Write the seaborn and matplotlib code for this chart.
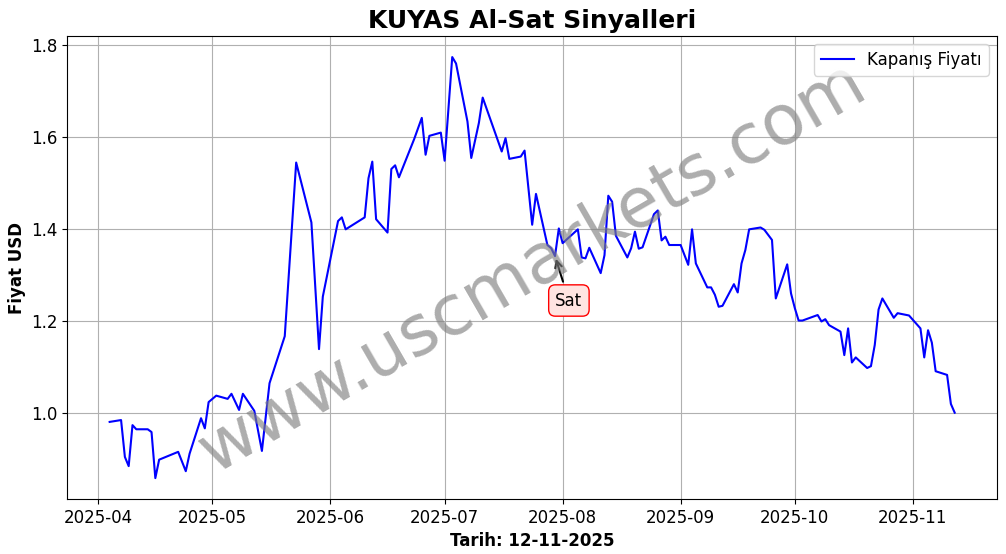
import seaborn as sns
import pandas as pd
import matplotlib.pyplot as plt
import matplotlib.dates as mdates

# closing prices (USD)
dates = [
    "2025-04-04", "2025-04-07", "2025-04-08", "2025-04-09", "2025-04-10", "2025-04-11",
    "2025-04-14", "2025-04-15", "2025-04-16", "2025-04-17", "2025-04-22", "2025-04-24",
    "2025-04-25", "2025-04-28", "2025-04-29", "2025-04-30", "2025-05-02", "2025-05-05",
    "2025-05-06", "2025-05-08", "2025-05-09", "2025-05-12", "2025-05-14", "2025-05-16",
    "2025-05-20", "2025-05-23", "2025-05-27", "2025-05-29", "2025-05-30", "2025-06-03",
    "2025-06-04", "2025-06-05", "2025-06-10", "2025-06-11", "2025-06-12", "2025-06-13",
    "2025-06-16", "2025-06-17", "2025-06-18", "2025-06-19", "2025-06-23", "2025-06-25",
    "2025-06-26", "2025-06-27", "2025-06-30", "2025-07-01", "2025-07-03", "2025-07-04",
    "2025-07-07", "2025-07-08", "2025-07-10", "2025-07-11", "2025-07-16", "2025-07-17",
    "2025-07-18", "2025-07-21", "2025-07-22", "2025-07-24", "2025-07-25", "2025-07-28",
    "2025-07-29", "2025-07-30", "2025-07-31", "2025-08-01", "2025-08-05", "2025-08-06",
    "2025-08-07", "2025-08-08", "2025-08-11", "2025-08-12", "2025-08-13", "2025-08-14",
    "2025-08-15", "2025-08-18", "2025-08-19", "2025-08-20", "2025-08-21", "2025-08-22",
    "2025-08-25", "2025-08-26", "2025-08-27", "2025-08-28", "2025-08-29", "2025-09-01",
    "2025-09-03", "2025-09-04", "2025-09-05", "2025-09-08", "2025-09-09", "2025-09-10",
    "2025-09-11", "2025-09-12", "2025-09-15", "2025-09-16", "2025-09-17", "2025-09-18",
    "2025-09-19", "2025-09-22", "2025-09-23", "2025-09-24", "2025-09-25", "2025-09-26",
    "2025-09-29", "2025-09-30", "2025-10-01", "2025-10-02", "2025-10-03", "2025-10-07",
    "2025-10-08", "2025-10-09", "2025-10-10", "2025-10-13", "2025-10-14", "2025-10-15",
    "2025-10-16", "2025-10-17", "2025-10-20", "2025-10-21", "2025-10-22", "2025-10-23",
    "2025-10-24", "2025-10-27", "2025-10-28", "2025-10-31", "2025-11-03", "2025-11-04",
    "2025-11-05", "2025-11-06", "2025-11-07", "2025-11-10", "2025-11-11", "2025-11-12",
]
prices = [
    0.981, 0.985, 0.905, 0.885, 0.974, 0.965,
    0.965, 0.959, 0.859, 0.899, 0.916, 0.874,
    0.912, 0.989, 0.967, 1.024, 1.038, 1.031,
    1.042, 1.007, 1.042, 1.005, 0.918, 1.065,
    1.167, 1.544, 1.414, 1.139, 1.253, 1.417,
    1.425, 1.399, 1.425, 1.510, 1.546, 1.421,
    1.392, 1.530, 1.538, 1.512, 1.595, 1.641,
    1.561, 1.602, 1.609, 1.548, 1.773, 1.759,
    1.633, 1.554, 1.630, 1.685, 1.568, 1.597,
    1.552, 1.557, 1.570, 1.409, 1.476, 1.365,
    1.358, 1.341, 1.401, 1.369, 1.399, 1.338,
    1.336, 1.359, 1.304, 1.343, 1.472, 1.459,
    1.385, 1.338, 1.358, 1.394, 1.357, 1.360,
    1.432, 1.440, 1.375, 1.383, 1.365, 1.365,
    1.322, 1.399, 1.325, 1.273, 1.273, 1.257,
    1.231, 1.233, 1.280, 1.262, 1.325, 1.354,
    1.399, 1.403, 1.398, 1.387, 1.376, 1.249,
    1.323, 1.260, 1.228, 1.201, 1.201, 1.213,
    1.199, 1.204, 1.191, 1.177, 1.126, 1.184,
    1.110, 1.121, 1.098, 1.102, 1.148, 1.225,
    1.249, 1.207, 1.217, 1.212, 1.184, 1.121,
    1.180, 1.153, 1.091, 1.083, 1.020, 1.001,
]

# sell signals
sell_dates = ["2025-07-30"]
sell_prices = [1.341]

df = pd.DataFrame({"Tarih": pd.to_datetime(dates), "Kapanış Fiyatı": prices})

fig, ax = plt.subplots(figsize=(10.06, 5.54), dpi=100)
fig.subplots_adjust(left=0.067, right=0.991, top=0.935, bottom=0.099)

sns.lineplot(data=df, x="Tarih", y="Kapanış Fiyatı", color="blue",
             linewidth=1.5, label="Kapanış Fiyatı", ax=ax)

for d, p in zip(sell_dates, sell_prices):
    ax.annotate("Sat", xy=(pd.Timestamp(d), p), xytext=(10, -32),
                textcoords="offset points", fontsize=12, ha="center", va="center",
                bbox=dict(boxstyle="round,pad=0.4", fc="#ffe4e1", ec="red"),
                arrowprops=dict(arrowstyle="->", color="black", lw=1.5))

ax.text(0.5, 0.5, "www.uscmarkets.com", transform=ax.transAxes,
        fontsize=50, color="gray", alpha=0.65, rotation=30,
        ha="center", va="center")

ax.xaxis.set_major_locator(mdates.MonthLocator())
ax.xaxis.set_major_formatter(mdates.DateFormatter("%Y-%m"))
ax.tick_params(labelsize=12)
ax.grid(True)
ax.set_title("KUYAS Al-Sat Sinyalleri", fontsize=18, fontweight="bold")
ax.set_xlabel("Tarih: 12-11-2025", fontsize=12, fontweight="bold")
ax.set_ylabel("Fiyat USD", fontsize=12, fontweight="bold")
ax.legend(loc="upper right", fontsize=12)

fig.savefig("out.png", dpi=100)
